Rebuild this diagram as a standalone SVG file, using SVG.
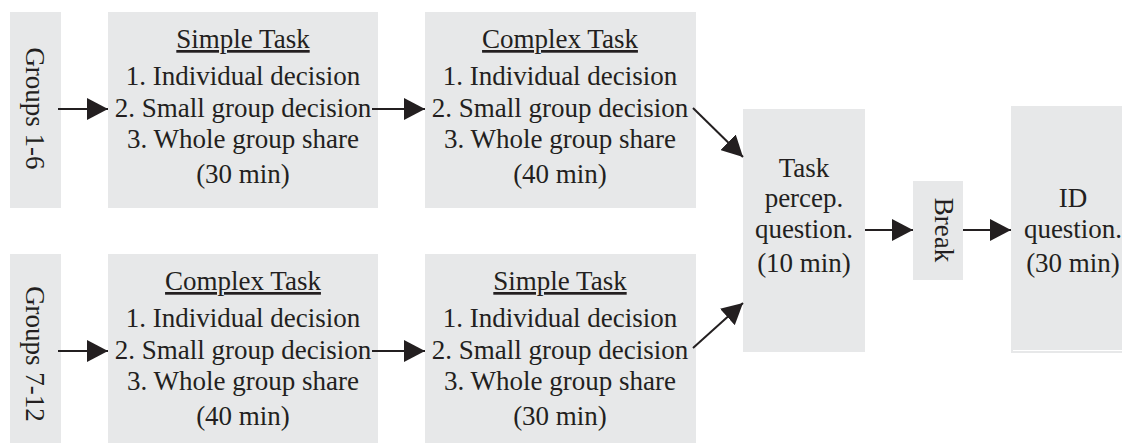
<svg xmlns="http://www.w3.org/2000/svg" width="1122" height="443" viewBox="0 0 1122 443" font-family="'Liberation Serif', 'Times New Roman', Times, serif">
<style>
.box{fill:#e7e8e9;stroke:none}
.t{font-size:27px;fill:#231f20;text-anchor:middle}
.u{text-decoration:underline}
.c{stroke:#231f20;stroke-width:2;fill:none}
</style>
<defs>
<marker id="ah" markerWidth="21" markerHeight="22" refX="21" refY="11" orient="auto" markerUnits="userSpaceOnUse">
<path d="M0,0 L21,11 L0,22 Z" fill="#231f20"/>
</marker>
</defs>
<rect width="1122" height="443" fill="#ffffff"/>
<g id="groups16">
<rect class="box" x="10" y="12" width="51" height="196"/>
<text class="t" transform="translate(26,108.5) rotate(90)" x="0" y="0">Groups 1-6</text>
</g>
<g id="simple1">
<rect class="box" x="108" y="12" width="270" height="196"/>
<text class="t u" x="243" y="48">Simple Task</text>
<text class="t" x="243" y="85">1. Individual decision</text>
<text class="t" x="243" y="117">2. Small group decision</text>
<text class="t" x="243" y="148">3. Whole group share</text>
<text class="t" x="243" y="183">(30 min)</text>
</g>
<g id="complex1">
<rect class="box" x="425" y="12" width="271" height="196"/>
<text class="t u" x="560" y="48">Complex Task</text>
<text class="t" x="560" y="85">1. Individual decision</text>
<text class="t" x="560" y="117">2. Small group decision</text>
<text class="t" x="560" y="148">3. Whole group share</text>
<text class="t" x="560" y="183">(40 min)</text>
</g>
<g id="groups712">
<rect class="box" x="10" y="254" width="51" height="189"/>
<text class="t" transform="translate(26,354) rotate(90)" x="0" y="0">Groups 7-12</text>
</g>
<g id="complex2">
<rect class="box" x="108" y="254" width="270" height="189"/>
<text class="t u" x="243" y="290">Complex Task</text>
<text class="t" x="243" y="327">1. Individual decision</text>
<text class="t" x="243" y="359">2. Small group decision</text>
<text class="t" x="243" y="390">3. Whole group share</text>
<text class="t" x="243" y="425">(40 min)</text>
</g>
<g id="simple2">
<rect class="box" x="425" y="254" width="271" height="189"/>
<text class="t u" x="560" y="290">Simple Task</text>
<text class="t" x="560" y="327">1. Individual decision</text>
<text class="t" x="560" y="359">2. Small group decision</text>
<text class="t" x="560" y="390">3. Whole group share</text>
<text class="t" x="560" y="425">(30 min)</text>
</g>
<g id="taskpercep">
<rect class="box" x="743" y="109" width="122" height="243"/>
<text class="t" x="804" y="177">Task</text>
<text class="t" x="804" y="207">percep.</text>
<text class="t" x="804" y="238">question.</text>
<text class="t" x="804" y="272">(10 min)</text>
</g>
<g id="break">
<rect class="box" x="913" y="181" width="50" height="99"/>
<text class="t" transform="translate(935,230) rotate(90)" x="0" y="0">Break</text>
</g>
<g id="idq">
<rect class="box" x="1011" y="106" width="120" height="247"/>
<line x1="1013" y1="350.5" x2="1122" y2="350.5" stroke="#ffffff" stroke-width="1"/>
<text class="t" x="1073" y="207">ID</text>
<text class="t" x="1073" y="238">question.</text>
<text class="t" x="1073" y="272">(30 min)</text>
</g>
<g id="connectors">
<line class="c" x1="58" y1="109" x2="108" y2="109" marker-end="url(#ah)"/>
<line class="c" x1="372" y1="109" x2="425" y2="109" marker-end="url(#ah)"/>
<line class="c" x1="58" y1="351" x2="108" y2="351" marker-end="url(#ah)"/>
<line class="c" x1="372" y1="351" x2="425" y2="351" marker-end="url(#ah)"/>
<line class="c" x1="693" y1="108" x2="743" y2="157" marker-end="url(#ah)"/>
<line class="c" x1="693" y1="348" x2="743" y2="303" marker-end="url(#ah)"/>
<line class="c" x1="865" y1="230" x2="913" y2="230" marker-end="url(#ah)"/>
<line class="c" x1="963" y1="230" x2="1011" y2="230" marker-end="url(#ah)"/>
</g>
</svg>
